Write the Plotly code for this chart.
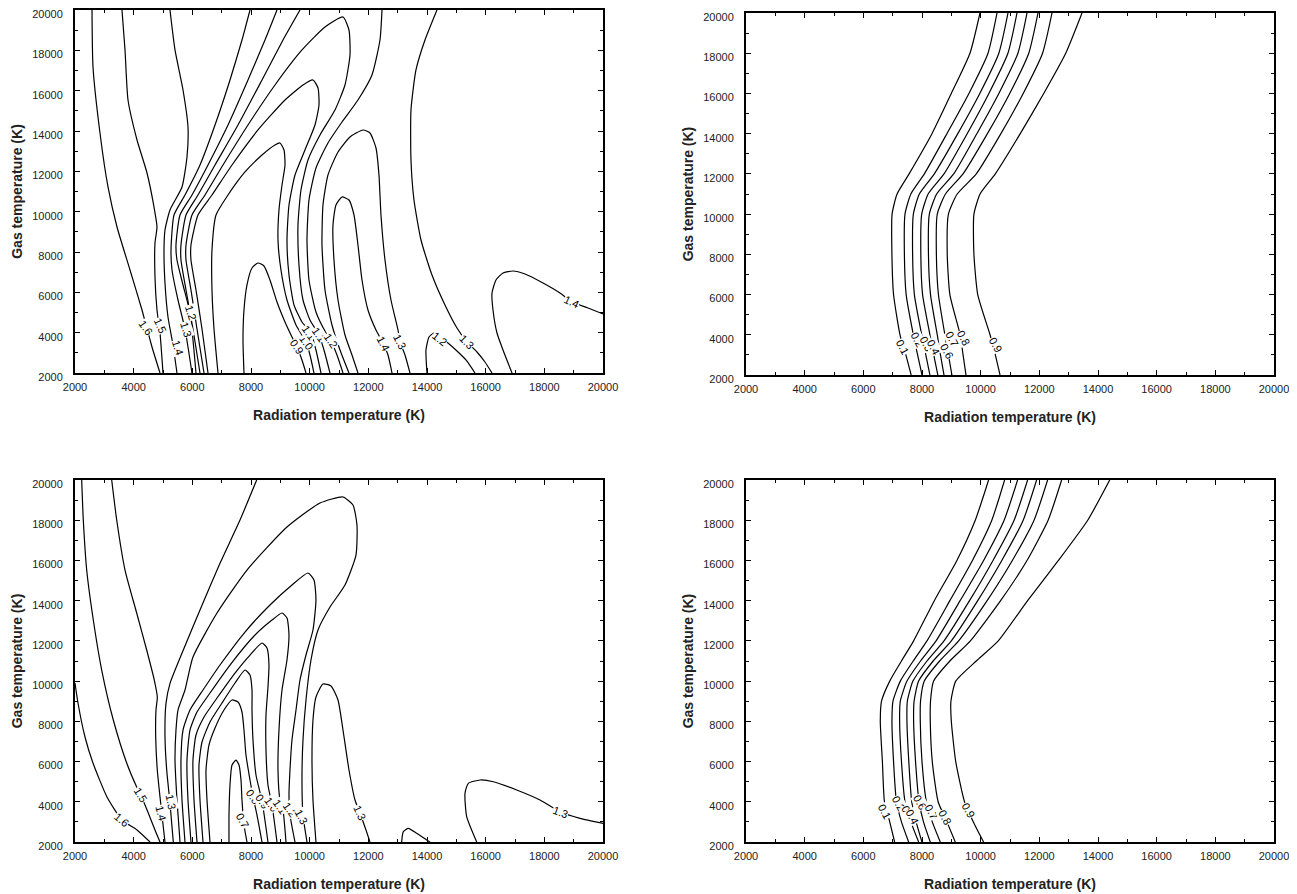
import plotly.graph_objects as go

# ---------------- data ----------------
TICKS = [2000, 4000, 6000, 8000, 10000, 12000, 14000, 16000, 18000, 20000]
TICK_TEXT = ["2000", "4000", "6000", "8000", "10000", "12000", "14000", "16000", "18000", "20000"]

# ---- top-right panel: contour x-positions at common gas temperatures
TR_Y = [2000, 3000, 4000, 6000, 8000, 10000, 11000, 12000, 14000, 16000, 18000, 20000]
TR_01 = [7630, 7450, 7250, 7030, 6975, 6980, 7150, 7560, 8340, 9000, 9635, 9977]
TR_02 = [8000, 7850, 7705, 7460, 7400, 7420, 7620, 8080, 8850, 9600, 10250, 10557]
TR_03 = [8270, 8130, 7990, 7740, 7680, 7705, 7910, 8420, 9220, 9970, 10620, 10932]
TR_04 = [8540, 8400, 8270, 8020, 7960, 7990, 8210, 8750, 9540, 10280, 10930, 11239]
TR_06 = [8750, 8630, 8520, 8290, 8220, 8250, 8500, 9080, 9870, 10620, 11270, 11580]
TR_07 = [9020, 8900, 8780, 8560, 8490, 8520, 8800, 9400, 10230, 10990, 11640, 11955]
TR_08 = [9500, 9400, 9300, 8950, 8860, 8900, 9200, 9850, 10690, 11450, 12110, 12432]
TR_09 = [10660, 10500, 10320, 9900, 9770, 9770, 9980, 10500, 11350, 12150, 12900, 13455]
TR_LABELS = ["0.1", "0.2", "0.3", "0.4", "0.6", "0.7", "0.8", "0.9"]
TR_LAB_X = [7340, 7830, 8160, 8390, 8840, 9020, 9420, 10490]
TR_LAB_Y = [3390, 3790, 3560, 3390, 3175, 3770, 3840, 3520]

# ---- bottom-right panel
BR_Y = [2000, 3000, 4000, 6000, 8000, 9000, 10000, 11000, 12000, 14000, 16000, 18000, 20000]
BR_01 = [7067, 6900, 6720, 6650, 6578, 6620, 6900, 7300, 7714, 8420, 9190, 9816, 10270]
BR_02 = [7544, 7300, 7130, 7030, 6976, 7010, 7260, 7700, 8170, 8950, 9720, 10380, 10816]
BR_03 = [7885, 7620, 7420, 7300, 7237, 7260, 7487, 7950, 8480, 9300, 10100, 10800, 11259]
BR_04 = [7998, 7800, 7650, 7550, 7487, 7500, 7691, 8170, 8750, 9620, 10420, 11140, 11600]
BR_06 = [8282, 8050, 7900, 7780, 7714, 7730, 7885, 8380, 9000, 9900, 10720, 11450, 11907]
BR_07 = [8623, 8350, 8150, 8000, 7941, 7950, 8078, 8600, 9250, 10220, 11080, 11820, 12282]
BR_08 = [9134, 8850, 8550, 8350, 8282, 8290, 8396, 8950, 9650, 10680, 11580, 12300, 12760]
BR_09 = [10100, 9750, 9450, 9150, 9000, 8986, 9150, 9850, 10600, 11600, 12650, 13650, 14400]
BR_LABELS = ["0.1", "0.2", "0.3", "0.4", "0.6", "0.7", "0.8", "0.9"]
BR_LAB_X = [6738, 7192, 7533, 7682, 7932, 8330, 8784, 9578]
BR_LAB_Y = [3507, 3924, 3457, 3260, 4007, 3507, 3260, 3590]

# ---- top-left panel (each contour: x list, y list)
TL_16_X = [2580, 2614, 2852, 3125, 3432, 3875, 4284, 4625, 4898]
TL_16_Y = [20000, 17174, 13902, 11224, 9240, 7108, 5124, 3289, 2000]
TL_15_X = [3602, 3705, 3807, 4114, 4455, 4693, 4795, 4727, 4727, 4795, 4898, 5000]
TL_15_Y = [20000, 18018, 15538, 13554, 11918, 10232, 9240, 8447, 6760, 5124, 3983, 2000]
TL_14_X = [5238, 5409, 5682, 5852, 5818, 5648, 5238, 5068, 5034, 5068, 5170, 5341, 5477]
TL_14_Y = [20000, 18018, 16034, 14199, 12711, 11224, 10083, 9091, 8099, 6463, 4777, 3389, 2000]
TL_13_X = [5988, 5750, 5511, 5307, 5273, 5375, 5750, 6261, 6773, 7284, 7693, 7966]
TL_13_Y = [2000, 4182, 5620, 7108, 8099, 9835, 10827, 12315, 14298, 16530, 18513, 20000]
TL_12_X = [6125, 5920, 5682, 5477, 5443, 5579, 5988, 6534, 7216, 7897, 8477, 8886]
TL_12_Y = [2000, 4975, 6364, 7604, 8348, 9835, 10827, 12315, 14298, 16530, 18513, 20000]
TL_G3_X = [6261, 6022, 5784, 5613, 5613, 5784, 6193, 6773, 7557, 8375, 9091, 9670]
TL_G3_Y = [2000, 4182, 6116, 7604, 8348, 9835, 10827, 12315, 14298, 16530, 18513, 20000]
TL_T3_X = [6398, 6159, 5954, 5784, 5784, 5988, 6432, 7045, 7897, 8818, 9738, 10522, 11136,
           11340, 11375, 11204, 10863, 10352, 9943, 9704, 9602, 9636, 9772, 10011, 10318, 10488, 10693]
TL_T3_Y = [2000, 4182, 6116, 7604, 8348, 9835, 10827, 12315, 14298, 16282, 18018, 19158, 19654,
           19009, 17770, 16282, 15042, 13802, 12563, 11075, 9339, 7356, 5620, 4628, 3884, 3141, 2000]
TL_T2_X = [6534, 6330, 6125, 5954, 5954, 6193, 6670, 7352, 8238, 9159, 9772, 10113, 10284,
           10318, 10181, 9840, 9500, 9295, 9227, 9295, 9466, 9738, 10045, 10215, 10386]
TL_T2_Y = [2000, 4182, 6116, 7604, 8348, 9835, 10827, 12315, 14050, 15538, 16282, 16530, 16133,
           15290, 14298, 13058, 11819, 10331, 8595, 6860, 5372, 4529, 3983, 3141, 2000]
TL_T1_X = [6875, 6739, 6670, 6670, 6807, 7216, 7795, 8375, 8818, 8988, 9125, 9159, 9057,
           8954, 8920, 9022, 9227, 9534, 9875, 10011, 10147]
TL_T1_Y = [2000, 4182, 6116, 8099, 9835, 10827, 11968, 12811, 13306, 13406, 13058, 12315, 11323,
           10083, 8595, 7108, 5620, 4380, 3537, 2893, 2000]
TL_TR_X = [7761, 7727, 7761, 7863, 8034, 8238, 8443, 8647, 8886, 9159, 9397, 9568, 9738, 9875]
TL_TR_Y = [2000, 3636, 5124, 6364, 7207, 7455, 7306, 6612, 5521, 4529, 3785, 3289, 2645, 2000]
TL_R12_X = [12466, 12397, 12124, 11647, 11102, 10624, 10215, 9977, 9909, 9977, 10215, 10556,
            10727, 10931, 11136]
TL_R12_Y = [20000, 18513, 16778, 15538, 14447, 13406, 12166, 10579, 8595, 6612, 5025, 3983,
            3587, 2893, 2000]
TL_K13_X = [11340, 11034, 10761, 10522, 10420, 10454, 10624, 10966, 11375, 11818, 12056, 12261,
            12363, 12431, 12568, 12772, 13011, 13079, 13250, 13420]
TL_K13_Y = [2000, 3141, 4380, 6116, 8348, 10331, 11819, 12959, 13703, 14050, 13902, 13158,
            11819, 9835, 7604, 5620, 4132, 3537, 2893, 2000]
TL_K14_X = [11647, 11443, 11204, 10966, 10829, 10795, 10897, 11102, 11340, 11511, 11647, 11784,
            11988, 12261, 12500, 12670, 12807]
TL_K14_Y = [2000, 2893, 3884, 5620, 7604, 9339, 10331, 10728, 10579, 9835, 8348, 6612, 5124,
            4132, 3488, 2893, 2000]
TL_B12_X = [13999, 13965, 14068, 14238, 14443, 14715, 15022, 15329, 15636]
TL_B12_Y = [2000, 3141, 3785, 3983, 3785, 3488, 3091, 2645, 2000]
TL_S13_X = [14340, 13931, 13624, 13454, 13454, 13556, 13795, 14170, 14613, 15022, 15363, 15704,
            15977, 16216]
TL_S13_Y = [20000, 18513, 17026, 15042, 12563, 10579, 8595, 6860, 5372, 4232, 3537, 3042, 2546, 2000]
TL_L14_X = [16898, 16591, 16386, 16250, 16216, 16352, 16591, 16932, 17341, 17955, 18534, 18943,
            19489, 20000]
TL_L14_Y = [2000, 3141, 3983, 5124, 5967, 6612, 6958, 7058, 6909, 6463, 5967, 5521, 5223, 4926]
TL_LABELS = ["1.6", "1.5", "1.4", "1.3", "1.2", "0.9", "1.0", "1.1", "1.1", "1.2",
             "1.4", "1.3", "1.2", "1.3", "1.4"]
TL_LAB_X = [4420, 4898, 5511, 5784, 5954, 9568, 9875, 9977, 10318, 10727,
            12500, 13079, 14443, 15363, 18943]
TL_LAB_Y = [4232, 4380, 3240, 4182, 4975, 3289, 3537, 3983, 3884, 3587,
            3488, 3537, 3686, 3537, 5521]
TL_LAB_A = [55, 65, 72, 72, 72, 55, 55, 55, 55, 55, 62, 62, 38, 45, 25]

# ---- bottom-left panel
BL_16_X = [2000, 2102, 2341, 2613, 3091, 3602, 4114, 4557]
BL_16_Y = [9905, 8911, 7220, 5927, 4237, 3093, 2596, 2000]
BL_15_X = [2228, 2283, 2399, 2624, 2910, 3306, 3762, 4103, 4240, 4499, 4727, 4898]
BL_15_Y = [20000, 18010, 15524, 13038, 10552, 8066, 5928, 4735, 4337, 3442, 2597, 2000]
BL_14_X = [3251, 3422, 3705, 4103, 4444, 4703, 4806, 4761, 4751, 4806, 4898, 4956, 5010, 5068]
BL_14_Y = [20000, 18010, 15524, 13386, 11546, 10054, 9209, 8563, 7220, 5580, 4237, 3491, 2745, 2000]
BL_13_X = [8194, 7625, 6943, 6261, 5692, 5239, 5102, 5068, 5126, 5239, 5351]
BL_13_Y = [20000, 18010, 15857, 13535, 11546, 9890, 8896, 7235, 5580, 3922, 2000]
BL_BIG_X = [5580, 5477, 5409, 5443, 5511, 5750, 6022, 6841, 7863, 9227, 10352, 11136, 11477,
            11613, 11579, 11204, 10693, 10284, 10045, 9875, 9772, 9738, 9772, 9909]
BL_BIG_Y = [2000, 4088, 6075, 7568, 8562, 9557, 11198, 13386, 15524, 17662, 18855, 19153, 18755,
            17761, 16269, 14778, 13684, 12541, 11049, 9060, 7071, 5082, 3342, 2000]
BL_T12_X = [5750, 5648, 5613, 5682, 5920, 6364, 6943, 7795, 8647, 9397, 9943, 10147, 10215,
            10113, 9875, 9670, 9534, 9397, 9329, 9295, 9329, 9500]
BL_T12_Y = [2000, 4088, 6075, 7568, 8562, 9557, 10800, 12441, 13784, 14778, 15375, 15026, 14032,
            12541, 11298, 10055, 8562, 7071, 5580, 4337, 3342, 2000]
BL_T11_X = [5954, 5852, 5818, 5920, 6159, 6602, 7284, 8136, 8716, 9057, 9227, 9295, 9227,
            9057, 8954, 8920, 8988, 9091, 9193]
BL_T11_Y = [2000, 4088, 6075, 7568, 8463, 9408, 10800, 12292, 13038, 13386, 13137, 12292, 11049,
            9557, 7568, 5580, 4088, 3591, 2000]
BL_T10_X = [6159, 6057, 6022, 6125, 6398, 6841, 7455, 7966, 8375, 8545, 8613, 8579, 8511,
            8511, 8579, 8716, 8886]
BL_T10_Y = [2000, 4088, 6075, 7319, 8214, 9159, 10402, 11297, 11894, 11645, 10800, 9706, 8314,
            6574, 4834, 3840, 2000]
BL_T09_X = [6364, 6261, 6227, 6330, 6602, 7011, 7455, 7795, 7966, 8034, 8034, 8068, 8170, 8375, 8579]
BL_T09_Y = [2000, 4088, 5828, 6972, 7966, 8911, 9905, 10552, 10303, 9557, 8562, 7071, 5331, 4038, 2000]
BL_T08_X = [6602, 6500, 6466, 6568, 6773, 7079, 7352, 7557, 7693, 7761, 7829, 7966, 8068, 8204, 8375]
BL_T08_Y = [2000, 4088, 5580, 6823, 7668, 8562, 9060, 8960, 8463, 7568, 6325, 5082, 4237, 3342, 2000]
BL_TR_X = [7250, 7250, 7284, 7352, 7488, 7591, 7659, 7693, 7761, 7863]
BL_TR_Y = [2000, 3342, 4834, 5828, 6075, 5828, 5082, 4088, 2845, 2000]
BL_HUMP_X = [10215, 10113, 10079, 10113, 10215, 10454, 10727, 10966, 11136, 11341, 11545, 11715,
             11920, 12056]
BL_HUMP_Y = [2000, 4088, 6075, 8066, 9210, 9856, 9757, 9060, 7568, 5580, 4088, 3442, 2597, 2000]
BL_HILL_X = [13137, 13192, 13362, 13649, 13990, 14102]
BL_HILL_Y = [2000, 2513, 2681, 2433, 2099, 2000]
BL_LOOP_X = [15694, 15353, 15295, 15408, 15807, 16261, 17058, 17852, 18534, 19215, 20000]
BL_LOOP_Y = [2000, 3258, 4421, 4918, 5082, 4998, 4585, 4088, 3506, 3178, 2930]
BL_LABELS = ["1.6", "1.5", "1.4", "1.3", "0.7", "0.8", "0.9", "1.0", "1.1", "1.2", "1.3",
             "1.3", "1.3"]
BL_LAB_X = [3602, 4240, 4922, 5283, 7727, 8068, 8375, 8682, 8988, 9329, 9728, 11715, 18534]
BL_LAB_Y = [3093, 4337, 3427, 4013, 3057, 4237, 4038, 3889, 3740, 3591, 3258, 3442, 3506]
BL_LAB_A = [40, 58, 75, 78, 62, 55, 55, 55, 55, 55, 62, 65, 20]

# ---------------- figure ----------------
W, H = 1297, 894
BODY = 8  # the page body margin shifts the figure by this many pixels
PANELS = {
    # name: (x0px, x1px, y0px(top), y1px(bottom)) in the screenshot
    "TL": (75, 603, 10, 373),
    "TR": (746, 1274, 13, 375),
    "BL": (75, 603, 480, 842),
    "BR": (746, 1274, 480, 842),
}
AX = {"TL": ("x", "y", ""), "TR": ("x2", "y2", "2"), "BL": ("x3", "y3", "3"), "BR": ("x4", "y4", "4")}

fig = go.Figure()
LINE = dict(color="black", width=1.2, shape="spline", smoothing=0.55)
FONT = "Liberation Sans, Arial, sans-serif"


def add_line(panel, xs, ys):
    xr, yr, _ = AX[panel]
    fig.add_trace(go.Scatter(x=xs, y=ys, mode="lines", line=LINE, xaxis=xr, yaxis=yr,
                             showlegend=False, hoverinfo="skip"))


def add_labels(panel, texts, xs, ys, angles):
    xr, yr, _ = AX[panel]
    for t, x, y, a in zip(texts, xs, ys, angles):
        fig.add_annotation(x=x, y=y, xref=xr, yref=yr, text=t, showarrow=False,
                           textangle=a, bgcolor="white", borderpad=0,
                           font=dict(family=FONT, size=11, color="black"))


for xs in [TR_01, TR_02, TR_03, TR_04, TR_06, TR_07, TR_08, TR_09]:
    add_line("TR", xs, TR_Y)
add_labels("TR", TR_LABELS, TR_LAB_X, TR_LAB_Y, [62] * len(TR_LABELS))
for xs in [BR_01, BR_02, BR_03, BR_04, BR_06, BR_07, BR_08, BR_09]:
    add_line("BR", xs, BR_Y)
add_labels("BR", BR_LABELS, BR_LAB_X, BR_LAB_Y, [62] * len(BR_LABELS))

for xs, ys in [(TL_16_X, TL_16_Y), (TL_15_X, TL_15_Y), (TL_14_X, TL_14_Y), (TL_13_X, TL_13_Y),
               (TL_12_X, TL_12_Y), (TL_G3_X, TL_G3_Y), (TL_T3_X, TL_T3_Y), (TL_T2_X, TL_T2_Y),
               (TL_T1_X, TL_T1_Y), (TL_TR_X, TL_TR_Y), (TL_R12_X, TL_R12_Y), (TL_K13_X, TL_K13_Y),
               (TL_K14_X, TL_K14_Y), (TL_B12_X, TL_B12_Y), (TL_S13_X, TL_S13_Y), (TL_L14_X, TL_L14_Y)]:
    add_line("TL", xs, ys)
add_labels("TL", TL_LABELS, TL_LAB_X, TL_LAB_Y, TL_LAB_A)

for xs, ys in [(BL_16_X, BL_16_Y), (BL_15_X, BL_15_Y), (BL_14_X, BL_14_Y), (BL_13_X, BL_13_Y),
               (BL_BIG_X, BL_BIG_Y), (BL_T12_X, BL_T12_Y), (BL_T11_X, BL_T11_Y),
               (BL_T10_X, BL_T10_Y), (BL_T09_X, BL_T09_Y), (BL_T08_X, BL_T08_Y),
               (BL_TR_X, BL_TR_Y), (BL_HUMP_X, BL_HUMP_Y), (BL_HILL_X, BL_HILL_Y),
               (BL_LOOP_X, BL_LOOP_Y)]:
    add_line("BL", xs, ys)
add_labels("BL", BL_LABELS, BL_LAB_X, BL_LAB_Y, BL_LAB_A)

layout = dict(width=W, height=H, margin=dict(l=0, r=0, t=0, b=0, pad=0), template="none",
              paper_bgcolor="white", plot_bgcolor="white", showlegend=False)
for name, (x0, x1, y0, y1) in PANELS.items():
    xr, yr, suf = AX[name]
    common = dict(range=[2000, 20000], tickmode="array", tickvals=TICKS, ticktext=TICK_TEXT,
                  ticks="inside", ticklen=5, tickwidth=1, tickcolor="black",
                  showline=True, linewidth=2, linecolor="black", mirror="ticks",
                  showgrid=False, zeroline=False, automargin=False, ticklabeloverflow="allow",
                  minor=dict(ticks="inside", ticklen=3, tickwidth=1, dtick=1000, tick0=2000,
                             tickcolor="black", showgrid=False),
                  tickfont=dict(family=FONT, size=11, color="#222"))
    layout["xaxis" + suf] = dict(common, domain=[(x0 - BODY) / W, (x1 - BODY) / W], anchor=yr,
                                 ticklabelstandoff=3,
                                 title=dict(text="<b>Radiation temperature (K)</b>", standoff=18,
                                            font=dict(family=FONT, size=14, color="#222")))
    layout["yaxis" + suf] = dict(common, domain=[1 - (y1 - BODY) / H, 1 - (y0 - BODY) / H], anchor=xr,
                                 ticklabelstandoff=8, ticklabelshift=4,
                                 title=dict(text="<b>Gas temperature (K)</b>", standoff=6,
                                            font=dict(family=FONT, size=14, color="#222")))
fig.update_layout(**layout)
fig.write_html("out.html")
